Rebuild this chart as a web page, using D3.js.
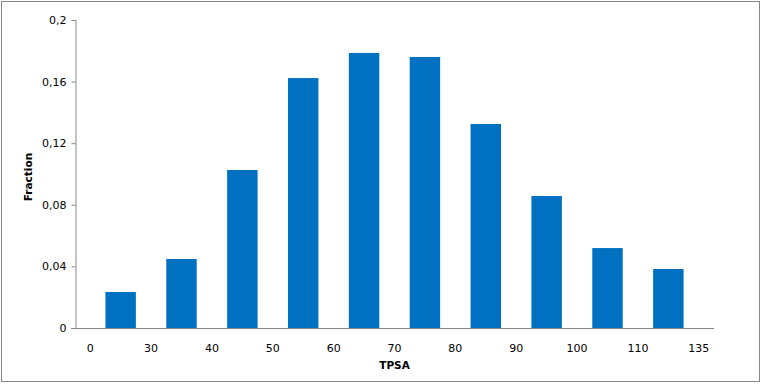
<!DOCTYPE html>
<html><head><meta charset="utf-8">
<script src="https://cdn.jsdelivr.net/npm/d3@7/dist/d3.min.js"></script>
<style>body{margin:0;background:#fff}svg{display:block}text{font-family:"DejaVu Sans",sans-serif;font-size:11px;fill:#000}</style>
</head><body><svg id="c" width="762" height="384"></svg>
<script>
const tickLabels = ["0","30","40","50","60","70","80","90","100","110","135"];
const fractions = [0.0234,0.0448,0.1026,0.1623,0.1786,0.1760,0.1325,0.0857,0.0519,0.0383];
const yTicks = [0,0.04,0.08,0.12,0.16,0.2];

(function(){
const svg = d3.select("#c");
svg.append("rect").attr("x",1.5).attr("y",1.5).attr("width",758).attr("height",380)
  .attr("fill","#fff").attr("stroke","#868686");

const pl=75, pr=714, pt=20, pb=328;
// 21 slots: even slots hold boundary labels, odd slots hold bars
const slots = d3.range(tickLabels.length + fractions.length);
const x = d3.scaleBand().domain(slots).range([pl,pr]).padding(0);
const y = d3.scaleLinear().domain([0,0.2]).range([pb,pt]);
const fmt = d => d===0 ? "0" : String(+d.toFixed(2)).replace(".",",");

svg.append("g").selectAll("rect").data(fractions).join("rect")
  .attr("x",(d,i)=>x(2*i+1)).attr("width",x.bandwidth())
  .attr("y",d=>y(d)).attr("height",d=>y(0)-y(d)).attr("fill","#0070C0");

const ya = svg.append("g").attr("transform",`translate(${pl+0.5},0)`)
  .call(d3.axisLeft(y).tickValues(yTicks).tickFormat(fmt).tickSize(4).tickPadding(5));
ya.select(".domain").attr("stroke","#868686");
ya.selectAll(".tick line").attr("stroke","#868686");
ya.selectAll("text").style("font-family","DejaVu Sans").style("font-size","11px");

svg.append("line").attr("x1",pl-4).attr("x2",pr).attr("y1",pb+0.5).attr("y2",pb+0.5).attr("stroke","#868686");

svg.append("g").selectAll("text").data(tickLabels).join("text")
  .attr("x",(d,i)=>x(2*i)+x.bandwidth()/2).attr("y",pb+24)
  .attr("text-anchor","middle").text(d=>d);

svg.append("text").attr("x",(pl+pr)/2).attr("y",369).attr("text-anchor","middle")
  .attr("font-weight","bold").style("font-size","10.5px").text("TPSA");
svg.append("text").attr("transform","translate(32,177) rotate(-90)").attr("text-anchor","middle")
  .attr("font-weight","bold").style("font-size","10.5px").text("Fraction");
})();
</script></body></html>
